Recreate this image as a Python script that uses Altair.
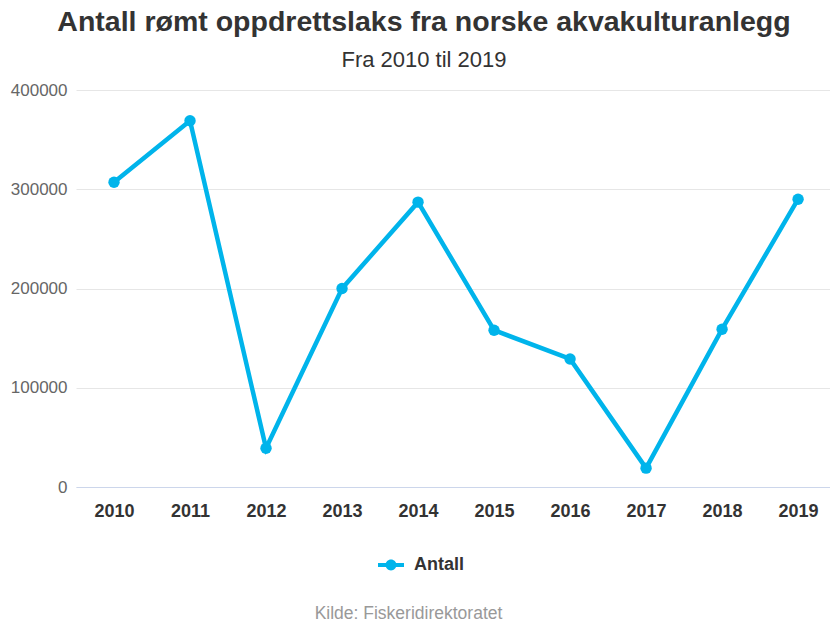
import altair as alt
import pandas as pd

years = [2010, 2011, 2012, 2013, 2014, 2015, 2016, 2017, 2018, 2019]
antall = [307000, 369000, 39000, 200000, 287000, 158000, 129000, 19000, 159000, 290000]
series_name = "Antall"
y_ticks = [0, 100000, 200000, 300000, 400000]

df = pd.DataFrame({"year": years, "antall": antall, "serie": [series_name] * len(years)})

COLOR = "#00b4eb"
FONT = "Liberation Sans"

legend_path = ("M-1,-0.16 L1,-0.16 L1,0.16 L-1,0.16 Z "
               "M0.42,0 A0.42,0.42 0 1,1 -0.42,0 A0.42,0.42 0 1,1 0.42,0 Z")

x = alt.X(
    "year:Q",
    scale=alt.Scale(domain=[2009.5, 2019.42], nice=False, zero=False),
    axis=alt.Axis(
        values=years, format="d", grid=False, ticks=False,
        domainColor="#ccd6eb", domainWidth=1,
        labelFont=FONT, labelFontSize=18, labelFontWeight="bold", labelColor="#333333",
        labelPadding=15,
        title="Kilde: Fiskeridirektoratet", titleFont=FONT, titleFontSize=17.5,
        titleFontWeight="normal", titleColor="#999999",
        titleX=332, titleY=131, titleBaseline="alphabetic", titleAnchor="middle"
    ),
)
y = alt.Y(
    "antall:Q",
    scale=alt.Scale(domain=[0, 400000], nice=False),
    axis=alt.Axis(
        values=y_ticks, format="d", title=None, ticks=False, domain=False,
        gridColor="#e6e6e6", gridWidth=1,
        labelFont=FONT, labelFontSize=17, labelColor="#666666", labelPadding=9
    ),
)
color = alt.Color(
    "serie:N",
    scale=alt.Scale(range=[COLOR]),
    legend=alt.Legend(
        title=None, orient="none", legendX=302, legendY=462,
        symbolType=legend_path, symbolSize=676, symbolStrokeWidth=0,
        symbolFillColor=COLOR,
        labelFont=FONT, labelFontSize=18, labelFontWeight="bold", labelColor="#333333",
        labelOffset=10
    ),
)

line = alt.Chart(df).mark_line(strokeWidth=4.5).encode(x=x, y=y, color=color)
pts = alt.Chart(df).mark_circle(size=130, opacity=1).encode(
    x=x, y=y, color=alt.Color("serie:N", scale=alt.Scale(range=[COLOR]), legend=None))

chart = (line + pts).properties(
    width=754, height=397,
    autosize=alt.AutoSizeParams(type="none"),
    padding={"left": 76, "top": 90, "right": 0, "bottom": 137},
    title=alt.TitleParams(
        text="Antall rømt oppdrettslaks fra norske akvakulturanlegg",
        subtitle="Fra 2010 til 2019",
        font=FONT, fontSize=28.5, fontWeight="bold", color="#333333",
        subtitleFont=FONT, subtitleFontSize=22, subtitleColor="#333333",
        subtitlePadding=14, anchor="middle", frame="group", dx=-29, offset=10
    ),
).configure_view(stroke=None)

chart.save("out.html", embed_options={"renderer": "svg", "actions": False})
